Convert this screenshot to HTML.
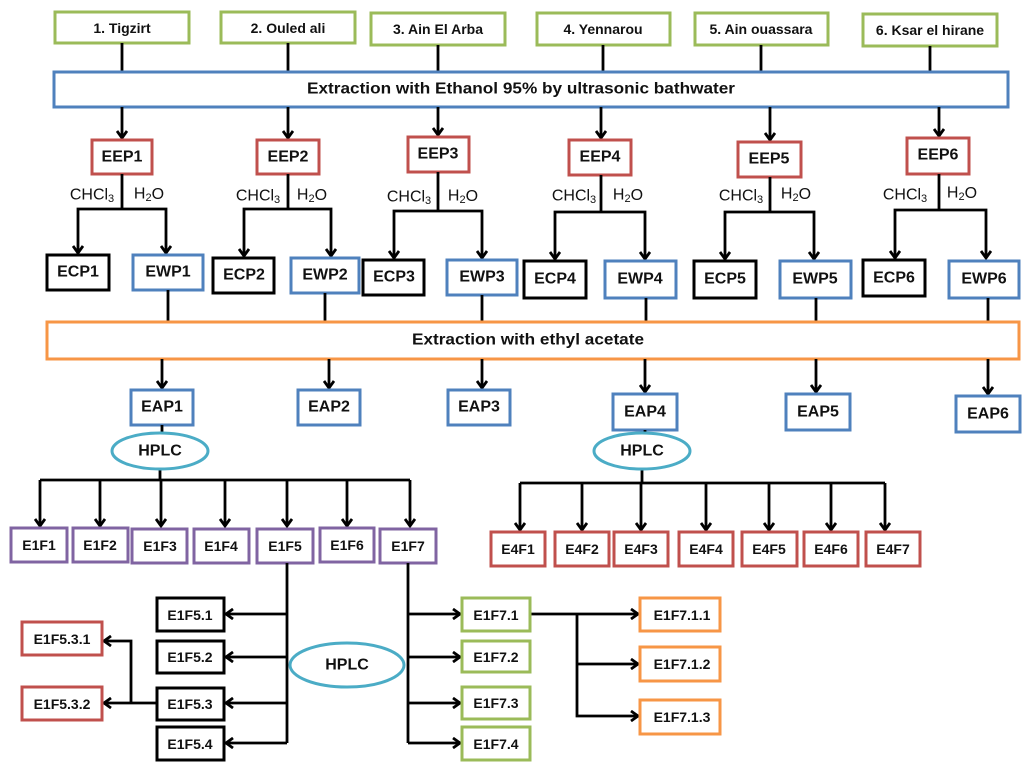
<!DOCTYPE html>
<html><head><meta charset="utf-8"><style>
body{margin:0;background:#fff}
svg text{font-family:"Liberation Sans",sans-serif;font-weight:bold;font-size:14px;fill:#111;text-anchor:middle;dominant-baseline:central}
.r{fill:#fff;stroke-width:3}
.l{stroke:#000;stroke-width:2.8;fill:none}
.a{stroke:#000;stroke-width:2.8;fill:none;marker-end:url(#m)}
.n{font-weight:normal !important;font-size:16px !important}
.b{font-size:16px !important}
</style></head><body>
<svg width="1024" height="768" viewBox="0 0 1024 768" xmlns="http://www.w3.org/2000/svg">
<defs><marker id="m" markerWidth="12" markerHeight="12" refX="9" refY="6" orient="auto" markerUnits="userSpaceOnUse"><polyline points="2,1 9,6 2,11" fill="none" stroke="#000" stroke-width="2.8"/></marker></defs>

<g stroke="#9bbb59">
<rect class="r" x="55" y="12" width="134" height="31"/>
<rect class="r" x="221" y="12" width="134" height="31"/>
<rect class="r" x="371" y="13" width="134" height="32"/>
<rect class="r" x="537" y="13" width="133" height="32"/>
<rect class="r" x="695" y="13" width="133" height="32"/>
<rect class="r" x="863" y="14" width="134" height="32"/>
</g>
<text x="122" y="28">1. Tigzirt</text>
<text x="288" y="28">2. Ouled ali</text>
<text x="438" y="29">3. Ain El Arba</text>
<text x="603" y="29">4. Yennarou</text>
<text x="761" y="29">5. Ain ouassara</text>
<text x="930" y="30">6. Ksar el hirane</text>
<g class="l"><path d="M122 43V72M288 43V72M438 45V72M603 45V72M761 45V72M930 46V72"/></g>

<rect class="r" x="54" y="72" width="954" height="35" stroke="#4f81bd"/>
<text class="b" x="521" y="89" textLength="428" lengthAdjust="spacingAndGlyphs">Extraction with Ethanol 95% by ultrasonic bathwater</text>

<g class="a"><path d="M122 107V138"/><path d="M288 107V138"/><path d="M438 107V135"/><path d="M601 107V138"/><path d="M770 107V140"/><path d="M939 107V136"/></g>

<g stroke="#c0504d">
<rect class="r" x="92" y="140" width="60" height="34"/>
<rect class="r" x="257" y="140" width="62" height="34"/>
<rect class="r" x="408" y="137" width="61" height="35"/>
<rect class="r" x="569" y="140" width="62" height="35"/>
<rect class="r" x="738" y="142" width="63" height="35"/>
<rect class="r" x="907" y="138" width="62" height="36"/>
</g>
<g class="b">
<text class="b" x="122" y="157">EEP1</text><text class="b" x="288" y="157">EEP2</text><text class="b" x="438" y="154">EEP3</text>
<text class="b" x="600" y="157">EEP4</text><text class="b" x="769" y="159">EEP5</text><text class="b" x="938" y="155">EEP6</text>
</g>

<g class="l"><path d="M122 174V209M288 174V209M438 172V211M601 175V212M770 177V212M939 174V210"/></g>
<g class="a">
<path d="M122 209H78V253"/><path d="M122 209H166V253"/>
<path d="M288 209H244V256"/><path d="M288 209H331V256"/>
<path d="M438 211H394V258"/><path d="M438 211H482V258"/>
<path d="M601 212H555V259"/><path d="M601 212H645V259"/>
<path d="M770 212H725V259"/><path d="M770 212H814V259"/>
<path d="M939 210H895V258"/><path d="M939 210H986V258"/>
</g>
<text class="n" x="92" y="195">CHCl<tspan font-size="11" dy="4">3</tspan></text><text class="n" x="149" y="194">H<tspan font-size="11" dy="4">2</tspan><tspan dy="-4">O</tspan></text>
<text class="n" x="258" y="196">CHCl<tspan font-size="11" dy="4">3</tspan></text><text class="n" x="312" y="195">H<tspan font-size="11" dy="4">2</tspan><tspan dy="-4">O</tspan></text>
<text class="n" x="409" y="197">CHCl<tspan font-size="11" dy="4">3</tspan></text><text class="n" x="463" y="196">H<tspan font-size="11" dy="4">2</tspan><tspan dy="-4">O</tspan></text>
<text class="n" x="574" y="196">CHCl<tspan font-size="11" dy="4">3</tspan></text><text class="n" x="628" y="195">H<tspan font-size="11" dy="4">2</tspan><tspan dy="-4">O</tspan></text>
<text class="n" x="741" y="196">CHCl<tspan font-size="11" dy="4">3</tspan></text><text class="n" x="796" y="194">H<tspan font-size="11" dy="4">2</tspan><tspan dy="-4">O</tspan></text>
<text class="n" x="905" y="195">CHCl<tspan font-size="11" dy="4">3</tspan></text><text class="n" x="962" y="193">H<tspan font-size="11" dy="4">2</tspan><tspan dy="-4">O</tspan></text>

<g stroke="#000">
<rect class="r" x="47" y="255" width="62" height="35"/>
<rect class="r" x="213" y="258" width="61" height="35"/>
<rect class="r" x="363" y="260" width="61" height="35"/>
<rect class="r" x="524" y="261" width="62" height="37"/>
<rect class="r" x="694" y="261" width="62" height="37"/>
<rect class="r" x="863" y="260" width="62" height="36"/>
</g>
<g stroke="#4f81bd">
<rect class="r" x="133" y="255" width="70" height="35"/>
<rect class="r" x="291" y="258" width="68" height="35"/>
<rect class="r" x="447" y="260" width="70" height="35"/>
<rect class="r" x="605" y="261" width="71" height="37"/>
<rect class="r" x="780" y="261" width="71" height="37"/>
<rect class="r" x="949" y="261" width="70" height="37"/>
</g>
<text class="b" x="78" y="272">ECP1</text><text class="b" x="244" y="275">ECP2</text><text class="b" x="394" y="277">ECP3</text>
<text class="b" x="555" y="279">ECP4</text><text class="b" x="725" y="279">ECP5</text><text class="b" x="894" y="278">ECP6</text>
<text class="b" x="168" y="272">EWP1</text><text class="b" x="325" y="275">EWP2</text><text class="b" x="482" y="277">EWP3</text>
<text class="b" x="640" y="279">EWP4</text><text class="b" x="815" y="279">EWP5</text><text class="b" x="984" y="279">EWP6</text>
<g class="l"><path d="M168 290V323M325 293V323M482 295V323M646 298V323M816 298V323M988 298V323"/></g>

<rect class="r" x="47" y="322" width="972" height="37" stroke="#f79646"/>
<text class="b" x="528" y="340" textLength="232" lengthAdjust="spacingAndGlyphs">Extraction with ethyl acetate</text>

<g class="a"><path d="M162 359V388"/><path d="M329 359V388"/><path d="M482 359V388"/><path d="M645 359V392"/><path d="M816 359V392"/><path d="M988 359V394"/></g>
<g stroke="#4f81bd">
<rect class="r" x="131" y="390" width="62" height="35"/>
<rect class="r" x="298" y="390" width="62" height="35"/>
<rect class="r" x="448" y="390" width="62" height="35"/>
<rect class="r" x="613" y="394" width="64" height="36"/>
<rect class="r" x="786" y="394" width="64" height="36"/>
<rect class="r" x="956" y="396" width="64" height="36"/>
</g>
<text class="b" x="162" y="407">EAP1</text><text class="b" x="329" y="407">EAP2</text><text class="b" x="479" y="407">EAP3</text>
<text class="b" x="645" y="412">EAP4</text><text class="b" x="818" y="412">EAP5</text><text class="b" x="988" y="414">EAP6</text>

<g class="l"><path d="M162 425V434M160 469V480M645 430V434M642 469V483"/></g>
<ellipse cx="160" cy="451" rx="48" ry="18" fill="#fff" stroke="#4bacc6" stroke-width="3"/>
<ellipse cx="642" cy="451" rx="48" ry="18" fill="#fff" stroke="#4bacc6" stroke-width="3"/>
<text class="b" x="160" y="451">HPLC</text><text class="b" x="642" y="451">HPLC</text>

<path class="l" d="M40 480H410"/>
<g class="a"><path d="M40 480V526"/><path d="M100 480V526"/><path d="M161 480V526"/><path d="M225 480V526"/><path d="M287 480V526"/><path d="M347 480V526"/><path d="M410 480V526"/></g>
<g stroke="#8064a2">
<rect class="r" x="11" y="528" width="56" height="34"/><rect class="r" x="73" y="528" width="55" height="34"/>
<rect class="r" x="132" y="529" width="55" height="34"/><rect class="r" x="194" y="529" width="55" height="34"/>
<rect class="r" x="257" y="529" width="56" height="34"/><rect class="r" x="320" y="528" width="54" height="34"/>
<rect class="r" x="380" y="529" width="56" height="34"/>
</g>
<text x="39" y="545">E1F1</text><text x="100" y="545">E1F2</text><text x="160" y="546">E1F3</text><text x="221" y="546">E1F4</text>
<text x="285" y="546">E1F5</text><text x="347" y="545">E1F6</text><text x="408" y="546">E1F7</text>

<path class="l" d="M520 483H885"/>
<g class="a"><path d="M520 483V530"/><path d="M582 483V530"/><path d="M641 483V530"/><path d="M706 483V530"/><path d="M769 483V530"/><path d="M831 483V530"/><path d="M885 483V530"/></g>
<g stroke="#c0504d">
<rect class="r" x="491" y="532" width="54" height="34"/><rect class="r" x="555" y="532" width="54" height="34"/>
<rect class="r" x="614" y="532" width="54" height="34"/><rect class="r" x="679" y="532" width="54" height="34"/>
<rect class="r" x="742" y="532" width="55" height="34"/><rect class="r" x="804" y="532" width="54" height="34"/>
<rect class="r" x="866" y="532" width="54" height="34"/>
</g>
<text x="518" y="549">E4F1</text><text x="582" y="549">E4F2</text><text x="641" y="549">E4F3</text><text x="706" y="549">E4F4</text>
<text x="769" y="549">E4F5</text><text x="831" y="549">E4F6</text><text x="893" y="549">E4F7</text>

<path class="l" d="M287 563V743"/>
<g class="a"><path d="M287 614H226"/><path d="M287 657H226"/><path d="M287 703H226"/><path d="M287 743H226"/>
<path d="M157 703H104"/><path d="M131 703V641H104"/></g>
<g stroke="#000">
<rect class="r" x="157" y="598" width="67" height="33"/><rect class="r" x="157" y="641" width="67" height="32"/>
<rect class="r" x="157" y="688" width="67" height="32"/><rect class="r" x="157" y="727" width="67" height="33"/>
</g>
<g stroke="#c0504d"><rect class="r" x="22" y="622" width="80" height="33"/><rect class="r" x="22" y="687" width="80" height="33"/></g>
<text x="190" y="615">E1F5.1</text><text x="190" y="657">E1F5.2</text><text x="190" y="704">E1F5.3</text><text x="190" y="744">E1F5.4</text>
<text x="62" y="639">E1F5.3.1</text><text x="62" y="704">E1F5.3.2</text>

<ellipse cx="347" cy="665" rx="57" ry="22" fill="#fff" stroke="#4bacc6" stroke-width="3"/>
<text class="b" x="347" y="665">HPLC</text>

<path class="l" d="M408 563V743"/>
<g class="a"><path d="M408 614H460"/><path d="M408 657H460"/><path d="M408 703H460"/><path d="M408 743H460"/>
<path d="M530 614H638"/><path d="M577 614V716H638"/><path d="M577 664H638"/></g>
<g stroke="#9bbb59">
<rect class="r" x="462" y="598" width="68" height="33"/><rect class="r" x="462" y="641" width="68" height="31"/>
<rect class="r" x="462" y="687" width="68" height="32"/><rect class="r" x="462" y="727" width="68" height="33"/>
</g>
<g stroke="#f79646">
<rect class="r" x="640" y="598" width="80" height="33"/><rect class="r" x="640" y="647" width="80" height="34"/><rect class="r" x="640" y="700" width="80" height="34"/>
</g>
<text x="496" y="615">E1F7.1</text><text x="496" y="657">E1F7.2</text><text x="496" y="703">E1F7.3</text><text x="496" y="744">E1F7.4</text>
<text x="682" y="615">E1F7.1.1</text><text x="682" y="664">E1F7.1.2</text><text x="682" y="717">E1F7.1.3</text>
</svg>
</body></html>
